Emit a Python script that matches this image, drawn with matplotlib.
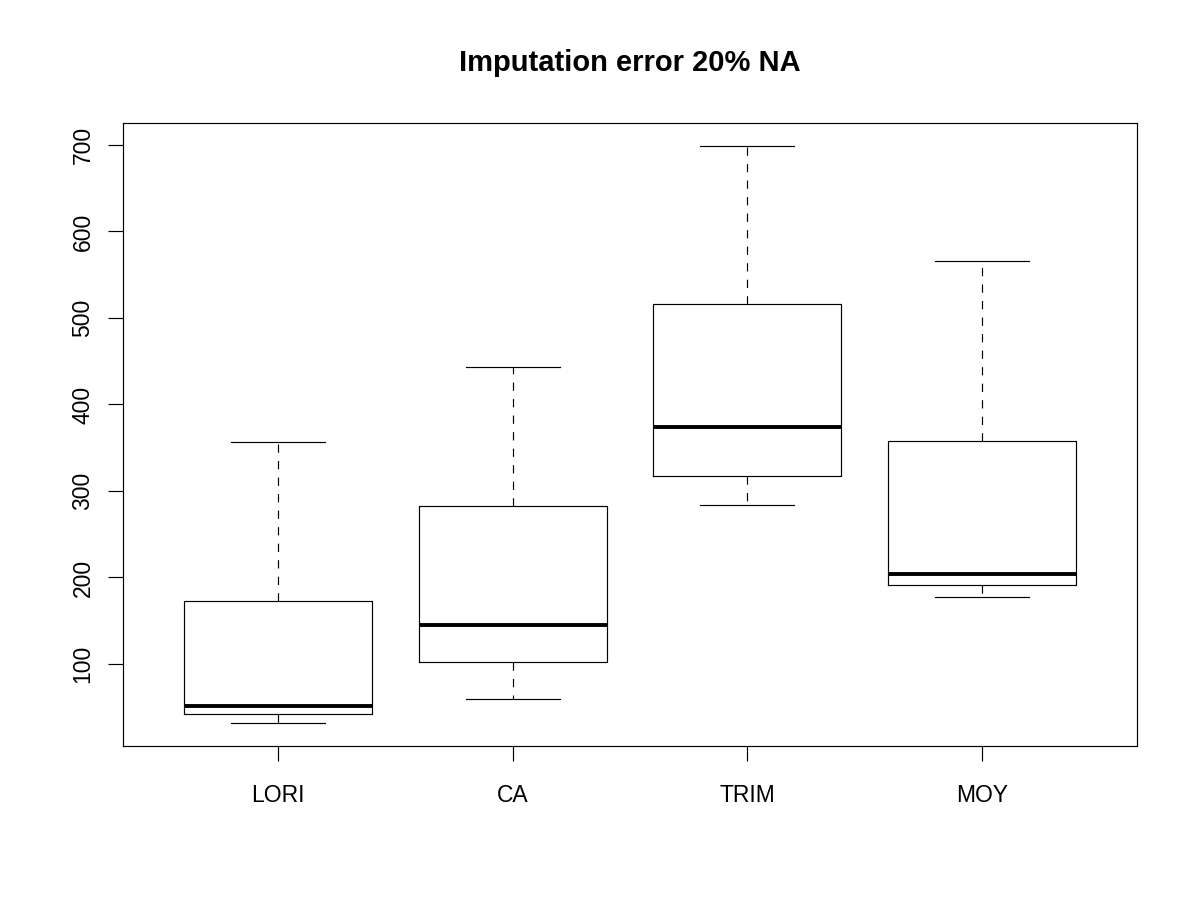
import matplotlib
matplotlib.use("Agg")
import matplotlib.pyplot as plt

plt.rcParams['font.family'] = ['Liberation Sans', 'DejaVu Sans']

categories = ["LORI", "CA", "TRIM", "MOY"]
whisker_low = [31.8, 59.5, 283.8, 177.5]
q1 = [42.2, 102.3, 317.3, 191.3]
median = [51.4, 145.0, 374.0, 204.0]
q3 = [172.8, 282.7, 516.0, 357.8]
whisker_high = [356.6, 443.4, 698.8, 565.9]
yticks = [100, 200, 300, 400, 500, 600, 700]
title = "Imputation error 20% NA"

stats = []
for i, name in enumerate(categories):
    stats.append(dict(label=name, whislo=whisker_low[i], q1=q1[i], med=median[i],
                      q3=q3[i], whishi=whisker_high[i], fliers=[]))

fig = plt.figure(figsize=(12, 9), dpi=100)
ax = fig.add_axes([123/1200, 1-746/900, (1137-123)/1200, (746-123)/900])

lw = 0.85
ax.bxp(stats, positions=[1, 2, 3, 4], widths=0.8, showfliers=False,
       boxprops=dict(color='black', linewidth=lw),
       whiskerprops=dict(color='black', linewidth=lw, linestyle=(0, (7, 7))),
       capprops=dict(color='black', linewidth=lw),
       medianprops=dict(color='black', linewidth=2.8, solid_capstyle='butt'),
       capwidths=0.4)

ax.set_xlim(0.34, 4.66)
ax.set_ylim(5.2, 725.4)
ax.set_yticks(yticks)
ax.set_yticklabels([str(v) for v in yticks], rotation=90, va='center')
ax.set_xticks([1, 2, 3, 4])
ax.set_xticklabels(categories)
ax.tick_params(axis='both', direction='out', length=10.5, width=lw, labelsize=16.5,
               color='black')
ax.tick_params(axis='y', pad=10)
ax.tick_params(axis='x', pad=17)
for s in ax.spines.values():
    s.set_linewidth(lw)

fig.text((123 + 1137) / 2400, 1 - 63/900, title, ha='center', va='center',
         fontsize=21, fontweight='bold')

fig.savefig("out.png", dpi=100)
